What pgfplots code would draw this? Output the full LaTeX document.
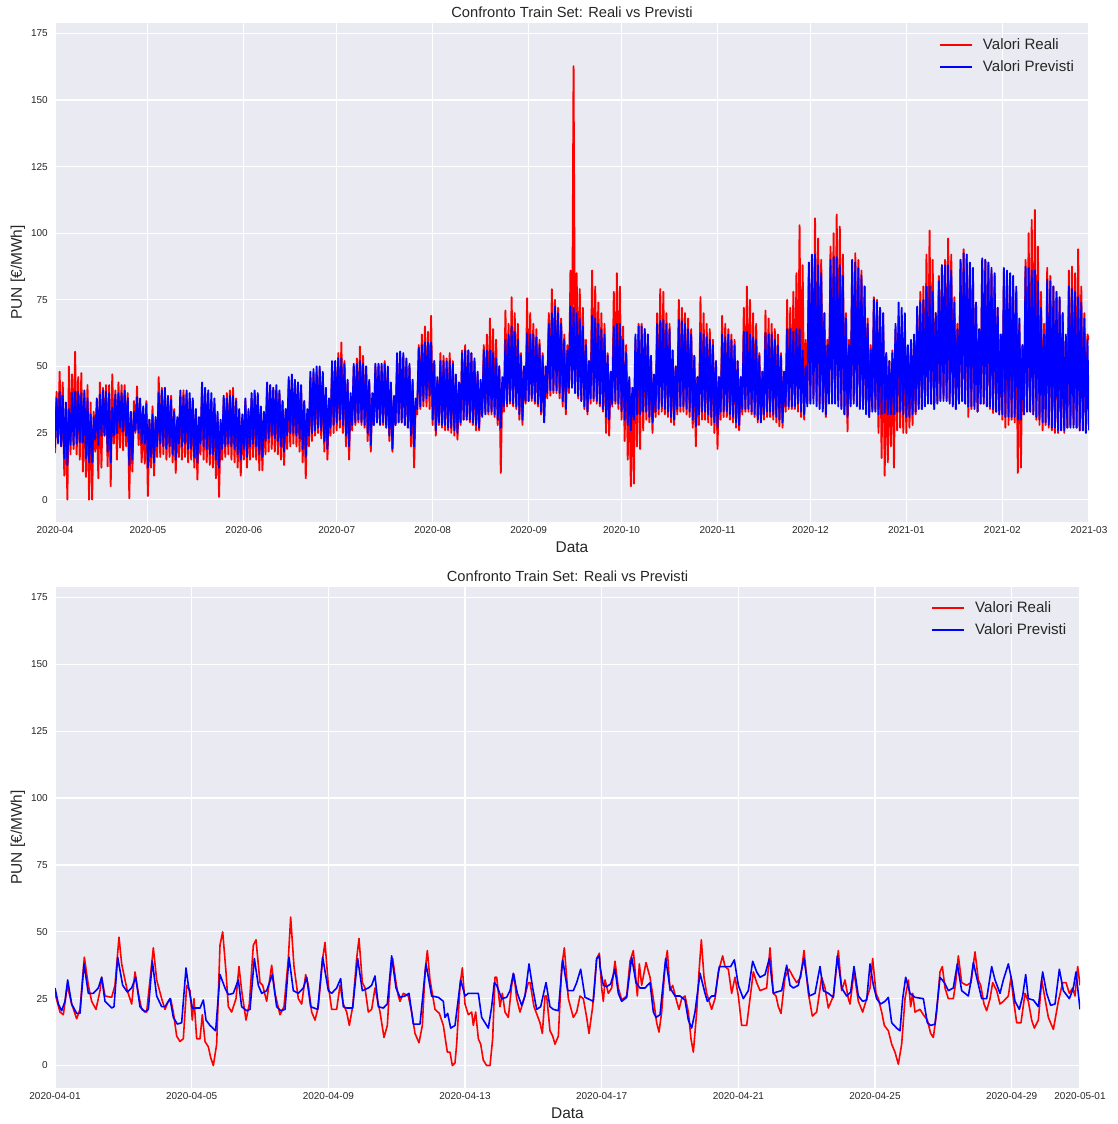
\documentclass[border=0pt]{standalone}
\usepackage{fontspec}
\setmainfont{Liberation Sans}
\usepackage{pgfplots}
\pgfplotsset{compat=1.18}
\definecolor{bgGray}{HTML}{EAEAF2}
\definecolor{txt}{HTML}{262626}

% 1 px of the reference = 0.75pt
\pgfplotsset{
  punstyle/.style={
    scale only axis,
    axis background/.style={fill=bgGray},
    axis line style={draw=none},
    major tick length=0pt,
    grid=major,
    major grid style={white, line width=0.9pt},
    ymin=-8.4, ymax=178.9,
    ytick={0,25,...,175},
    /pgf/number format/assume math mode=true,
    tick label style={font=\fontsize{7.5}{9}\selectfont, text=txt},
    yticklabel style={inner sep=0pt, anchor=east, xshift=-5.25pt},
    xticklabel style={inner sep=0pt, anchor=north, yshift=-3pt},
    title style={font=\fontsize{11}{13}\selectfont, text=txt,
      at={(axis description cs:0.5,1)}, anchor=base, inner sep=0pt, yshift=-1.5pt},
    xlabel style={font=\fontsize{11.6}{14}\selectfont, text=txt,
      at={(axis description cs:0.5,0)}, anchor=base, inner sep=0pt, yshift=-22.5pt},
    ylabel style={font=\fontsize{11.6}{14}\selectfont, text=txt, anchor=center, inner sep=0pt},
    legend style={draw=none, fill=none, font=\fontsize{11.3}{13}\selectfont, text=txt,
      anchor=north west, inner sep=0pt, row sep=6.6pt,
      nodes={inner sep=0pt},
      /tikz/every odd column/.append style={column sep=7.5pt}},
    legend image code/.code={\draw[#1, line width=1.2pt] (0pt,0pt) -- (24pt,0pt);},
    legend cell align=left,
    title={Confronto Train Set: Reali vs Previsti},
    xlabel={Data},
    ylabel={PUN [€/MWh]},
  },
  reali/.style={red, line width=1.2pt, line join=round, no marks},
  previsti/.style={blue, line width=1.2pt, line join=round, no marks},
}

\begin{document}
\begin{tikzpicture}
\path[use as bounding box] (0,0) rectangle (837.75pt,-843pt);

% ---------- top: whole train set, x = days from 2020-04-01 ----------
\begin{axis}[punstyle,
  at={(41.25pt,-391.5pt)}, anchor=south west,
  width=775.5pt, height=374.25pt,
  xmin=0, xmax=334,
  xtick={0,30,61,91,122,153,183,214,244,275,306,334},
  xticklabels={2020-04,2020-05,2020-06,2020-07,2020-08,2020-09,2020-10,2020-11,2020-12,2021-01,2021-02,2021-03},
  ylabel style={at={(axis description cs:-0.0358,0.5)}},
  legend style={at={(axis description cs:0.855,0.969)}},
  reali/.append style={line width=1.4pt},
  previsti/.append style={line width=1.4pt},
]
\addplot[reali] coordinates {
(0,17.5)(0.5,40.5)(1,21)(1.5,48)(2,20)(2.5,44)(3,9)(3.5,32)(4,0)(4.5,50)(5,17)(5.5,47)(6,19)(6.5,55.5)
(7,17)(7.5,46)(8,15)(8.5,47.5)(9,10.5)(9.5,40)(10,8.5)(10.5,43)(11,0)(11.5,36.5)(12,0)(12.5,33)(13,18)(13.5,34)
(14,8)(14.5,44)(15,12)(15.5,42)(16,24)(16.5,43)(17,12.5)(17.5,43)(18,5)(18.5,47)(19,21)(19.5,41)(20,15)(20.5,44)
(21,19.5)(21.5,43)(22,18.5)(22.5,43)(23,20)(23.5,40)(24,0.5)(24.5,32)(25,10.5)(25.5,37)(26,25)(26.5,42.5)(27,20.5)(27.5,33)
(28,14)(28.5,32)(29,13.5)(29.5,37)(30,1.3)(30.5,30)(31,12)(31.5,35)(32,9)(32.5,30)(33,16)(33.5,46)(34,16)(34.5,42)
(35,17)(35.5,40)(36,15)(36.5,38)(37,16)(37.5,39)(38,14)(38.5,34)(39,10)(39.5,30)(40,16)(40.5,39)(41,15)(41.5,41)
(42,16)(42.5,40)(43,14)(43.5,38)(44,15)(44.5,37)(45,12)(45.5,33)(46,7.5)(46.5,30)(47,17)(47.5,42)(48,15)(48.5,40)
(49,14)(49.5,38)(50,13)(50.5,37)(51,12)(51.5,36)(52,8)(52.5,31)(53,1)(53.5,29)(54,15)(54.5,38)(55,16)(55.5,40)
(56,17)(56.5,41)(57,15)(57.5,42)(58,14)(58.5,38)(59,12)(59.5,33)(60,9)(60.5,30)(61,15)(61.5,37)(62,12)(62.5,33)
(63,15)(63.5,38)(64,16)(64.5,40)(65,15)(65.5,39)(66,11)(66.5,34)(67,11)(67.5,31)(68,17)(68.5,42)(69,18)(69.5,43)
(70,19)(70.5,42)(71,18)(71.5,41)(72,17)(72.5,40)(73,15)(73.5,37)(74,13)(74.5,33)(75,19)(75.5,44)(76,20)(76.5,45)
(77,21)(77.5,44)(78,20)(78.5,43)(79,18)(79.5,41)(80,14)(80.5,37)(81,8)(81.5,32)(82,20)(82.5,46)(83,22)(83.5,47)
(84,24)(84.5,48)(85,25)(85.5,49)(86,23)(86.5,46)(87,18)(87.5,40)(88,15)(88.5,36)(89,24)(89.5,50)(90,25)(90.5,52)
(91,26)(91.5,55)(92,27)(92.5,59)(93,25)(93.5,52)(94,20)(94.5,44)(95,15)(95.5,38)(96,26)(96.5,50)(97,28)(97.5,53)
(98,29)(98.5,57.5)(99,28)(99.5,54)(100,27)(100.5,50)(101,22)(101.5,44)(102,18)(102.5,38)(103,28)(103.5,50)(104,29)(104.5,51)
(105,29)(105.5,50)(106,28)(106.5,52)(107,27)(107.5,49)(108,22)(108.5,43)(109,18)(109.5,37)(110,28)(110.5,53)(111,29)(111.5,55)
(112,29)(112.5,54)(113,28)(113.5,52)(114,27)(114.5,50)(115,20)(115.5,44)(116,12)(116.5,36)(117,32)(117.5,58)(118,34)(118.5,62)
(119,35)(119.5,65)(120,35)(120.5,63)(121,34)(121.5,69)(122,28)(122.5,52)(123,24)(123.5,45)(124,28)(124.5,55)(125,27)(125.5,54)
(126,26)(126.5,53)(127,26)(127.5,55)(128,25)(128.5,52)(129,24)(129.5,46)(130,22.5)(130.5,42)(131,28)(131.5,56)(132,30)(132.5,58)
(133,30)(133.5,56)(134,29)(134.5,55)(135,28)(135.5,52)(136,26)(136.5,47)(137,26)(137.5,44)(138,32)(138.5,58)(139,33)(139.5,62)
(140,32)(140.5,68)(141,32)(141.5,64)(142,31)(142.5,60)(143,28)(143.5,50)(144,10)(144.5,44)(145,33)(145.5,71)(146,35)(146.5,66)
(147,36)(147.5,76)(148,35)(148.5,70)(149,34)(149.5,66)(150,30)(150.5,55)(151,28)(151.5,50)(152,36)(152.5,75.6)(153,37)(153.5,70)
(154,37)(154.5,66)(155,36)(155.5,64)(156,35)(156.5,60)(157,32)(157.5,55)(158,29)(158.5,50)(159,38)(159.5,70)(160,39)(160.5,79)
(161,40)(161.5,75)(162,40)(162.5,72)(163,38)(163.5,68)(164,35)(164.5,62)(165,32)(165.5,58)(166,40)(166.5,86)(167,42)(167.5,162.7)
(168,40)(168.5,85)(169,38)(169.5,79)(170,37)(170.5,72)(171,34)(171.5,60)(172,32)(172.5,52)(173,36)(173.5,86)(174,37)(174.5,80)
(175,36)(175.5,74)(176,35)(176.5,70)(177,33)(177.5,66)(178,25)(178.5,55)(179,24)(179.5,48)(180,35)(180.5,78)(181,36)(181.5,85)
(182,34)(182.5,80)(183,30)(183.5,65)(184,22)(184.5,58)(185,15)(185.5,45)(186,5)(186.5,40)(187,6)(187.5,60)(188,20)(188.5,66)
(189,19)(189.5,66)(190,26)(190.5,64)(191,30)(191.5,62)(192,29)(192.5,54)(193,25)(193.5,46)(194,31)(194.5,70)(195,32)(195.5,79)
(196,33)(196.5,78)(197,32)(197.5,70)(198,31)(198.5,66)(199,29)(199.5,56)(200,28)(200.5,50)(201,32)(201.5,75)(202,33)(202.5,72)
(203,33)(203.5,70)(204,32)(204.5,68)(205,31)(205.5,64)(206,27)(206.5,54)(207,20)(207.5,46)(208,28)(208.5,76)(209,30)(209.5,70)
(210,30)(210.5,66)(211,29)(211.5,64)(212,28)(212.5,60)(213,25)(213.5,52)(214,19)(214.5,46)(215,30)(215.5,69)(216,31)(216.5,66)
(217,31)(217.5,64)(218,30)(218.5,62)(219,29)(219.5,60)(220,27)(220.5,52)(221,26)(221.5,46)(222,32)(222.5,72)(223,33)(223.5,80)
(224,33)(224.5,75)(225,32)(225.5,70)(226,31)(226.5,66)(227,29)(227.5,55)(228,29)(228.5,48)(229,30)(229.5,71)(230,31)(230.5,68)
(231,31)(231.5,66)(232,30)(232.5,64)(233,29)(233.5,62)(234,27.5)(234.5,55)(235,27)(235.5,48)(236,33)(236.5,75)(237,34)(237.5,72)
(238,34)(238.5,78)(239,34)(239.5,85)(240,33)(240.5,103)(241,31)(241.5,88)(242,30)(242.5,60)(243,36)(243.5,85)(244,37)(244.5,90)
(245,38)(245.5,105.6)(246,37)(246.5,98)(247,36)(247.5,90)(248,34)(248.5,70)(249,31)(249.5,60)(250,38)(250.5,95)(251,38)(251.5,100)
(252,38)(252.5,107)(253,37)(253.5,102.5)(254,35)(254.5,92)(255,32)(255.5,70)(256,25.6)(256.5,60)(257,36)(257.5,88)(258,37)(258.5,92.5)
(259,36)(259.5,90)(260,35)(260.5,86)(261,34)(261.5,80)(262,33)(262.5,68)(263,31)(263.5,58)(264,34)(264.5,76)(265,34)(265.5,75)
(266,25)(266.5,72)(267,15.6)(267.5,70)(268,9)(268.5,55)(269,14)(269.5,52)(270,20)(270.5,56)(271,12)(271.5,64)(272,26)(272.5,66)
(273,27)(273.5,65)(274,25)(274.5,62)(275,25)(275.5,55)(276,27)(276.5,58)(277,28)(277.5,60)(278,32)(278.5,72)(279,34)(279.5,78)
(280,34)(280.5,80)(281,36)(281.5,92)(282,37)(282.5,101)(283,36)(283.5,90)(284,34)(284.5,70)(285,37)(285.5,84)(286,38)(286.5,88)
(287,38)(287.5,90)(288,38)(288.5,98)(289,37)(289.5,92)(290,36)(290.5,76)(291,34)(291.5,66)(292,37)(292.5,90)(293,37)(293.5,94)
(294,36)(294.5,92)(295,31)(295.5,88)(296,34)(296.5,86)(297,35)(297.5,74)(298,33)(298.5,64)(299,36)(299.5,90)(300,36)(300.5,90)
(301,35)(301.5,88)(302,34)(302.5,86)(303,32.5)(303.5,84)(304,33)(304.5,72)(305,32)(305.5,62)(306,30)(306.5,85.6)(307,27)(307.5,84)
(308,28)(308.5,82)(309,30)(309.5,80)(310,29)(310.5,78)(311,10)(311.5,66)(312,12)(312.5,58)(313,32)(313.5,90)(314,33)(314.5,100)
(315,33)(315.5,105)(316,32)(316.5,108.75)(317,30)(317.5,95)(318,28)(318.5,78)(319,26)(319.5,66)(320,28)(320.5,87)(321,27)(321.5,84)
(322,26)(322.5,80)(323,25)(323.5,78)(324,25)(324.5,75)(325,26)(325.5,70)(326,25)(326.5,60)(327,27)(327.5,86)(328,28)(328.5,87.5)
(329,28)(329.5,85)(330,27)(330.5,94)(331,26)(331.5,80)(332,26)(332.5,70)(333,26)(333.5,62)(334,60)
};
\addlegendentry{Valori Reali}
\addplot[previsti] coordinates {
(0,19.5)(0.5,38)(1,21.5)(1.5,40.5)(2,20)(2.5,39)(3,15.5)(3.5,36.5)(4,13)(4.5,34)(5,20.5)(5.5,40)(6,20.5)(6.5,40.5)
(7,21)(7.5,40.5)(8,21.5)(8.5,40)(9,21.5)(9.5,41)(10,15.5)(10.5,38)(11,14)(11.5,32)(12,14)(12.5,31)(13,22.5)(13.5,38)
(14,20.5)(14.5,39.5)(15,24)(15.5,41)(16,24)(16.5,40.5)(17,18)(17.5,40)(18,14)(18.5,34.5)(19,24)(19.5,39.5)(20,25)(20.5,40)
(21,27)(21.5,40)(22,25.5)(22.5,41)(23,24)(23.5,38)(24,13)(24.5,33)(25,15)(25.5,33)(26,26)(26.5,38.5)(27,25)(27.5,38)
(28,21)(28.5,35)(29,21)(29.5,36)(30,12)(30.5,30)(31,16)(31.5,32)(32,14)(32.5,31)(33,20)(33.5,40)(34,21)(34.5,41)
(35,20)(35.5,42)(36,19)(36.5,39)(37,20)(37.5,37.5)(38,17)(38.5,33)(39,15)(39.5,31)(40,21)(40.5,41)(41,20)(41.5,39)
(42,21)(42.5,41)(43,19)(43.5,40)(44,19)(44.5,38)(45,16)(45.5,34)(46,14)(46.5,31)(47,21)(47.5,44)(48,20)(48.5,42)
(49,19)(49.5,41)(50,17)(50.5,40)(51,17)(51.5,38)(52,15)(52.5,33)(53,12)(53.5,30)(54,19)(54.5,39)(55,20)(55.5,38)
(56,21)(56.5,39)(57,20)(57.5,39)(58,19)(58.5,37)(59,17)(59.5,34)(60,15)(60.5,32)(61,19)(61.5,38)(62,16)(62.5,34)
(63,20)(63.5,40)(64,21)(64.5,41)(65,20)(65.5,40)(66,17)(66.5,35)(67,16)(67.5,33)(68,22)(68.5,44)(69,23)(69.5,43)
(70,24)(70.5,42)(71,23)(71.5,43)(72,22)(72.5,41)(73,20)(73.5,37)(74,18)(74.5,34)(75,24)(75.5,46)(76,25)(76.5,47)
(77,25)(77.5,45)(78,24)(78.5,44)(79,23)(79.5,43)(80,19)(80.5,37)(81,16)(81.5,34)(82,24)(82.5,48)(83,25)(83.5,49)
(84,26)(84.5,50)(85,27)(85.5,50)(86,26)(86.5,48)(87,22)(87.5,42)(88,19)(88.5,38)(89,27)(89.5,52)(90,28)(90.5,52)
(91,29)(91.5,53)(92,30)(92.5,53)(93,28)(93.5,51)(94,24)(94.5,45)(95,20)(95.5,40)(96,28)(96.5,51)(97,29)(97.5,51)
(98,30)(98.5,52)(99,29)(99.5,51)(100,28)(100.5,50)(101,25)(101.5,45)(102,20.5)(102.5,40)(103,28)(103.5,51)(104,29)(104.5,51)
(105,28)(105.5,51)(106,29)(106.5,51)(107,27)(107.5,50)(108,24)(108.5,44)(109,19)(109.5,39)(110,28)(110.5,55)(111,29)(111.5,55.6)
(112,29)(112.5,55)(113,28)(113.5,53)(114,27)(114.5,51)(115,24)(115.5,45)(116,20)(116.5,38)(117,34)(117.5,57)(118,35)(118.5,58)
(119,37)(119.5,59)(120,38)(120.5,59)(121,39)(121.5,59)(122,30)(122.5,52)(123,26)(123.5,46)(124,29)(124.5,52)(125,28)(125.5,52)
(126,28)(126.5,52)(127,27)(127.5,52)(128,27)(128.5,51)(129,26)(129.5,47)(130,25)(130.5,44)(131,29)(131.5,55)(132,30)(132.5,56)
(133,30)(133.5,56)(134,30)(134.5,55)(135,29)(135.5,53)(136,28)(136.5,48)(137,27)(137.5,45)(138,31)(138.5,56)(139,32)(139.5,56)
(140,33)(140.5,56)(141,33)(141.5,55)(142,32)(142.5,53)(143,30)(143.5,50)(144,27)(144.5,46)(145,35)(145.5,60)(146,36)(146.5,62)
(147,37)(147.5,65)(148,36)(148.5,63)(149,35)(149.5,60)(150,32)(150.5,54)(151,30)(151.5,50)(152,37)(152.5,62.5)(153,37)(153.5,62)
(154,38)(154.5,62)(155,37)(155.5,61)(156,36)(156.5,58)(157,33)(157.5,54)(158,29)(158.5,50)(159,40)(159.5,66)(160,41)(160.5,70)
(161,41)(161.5,72.5)(162,41)(162.5,70)(163,40)(163.5,66)(164,37)(164.5,60)(165,34)(165.5,56)(166,42)(166.5,72.5)(167,42)(167.5,72)
(168,40)(168.5,70)(169,39)(169.5,68)(170,37)(170.5,65)(171,35)(171.5,58)(172,33)(172.5,52)(173,38)(173.5,69)(174,38)(174.5,68)
(175,37)(175.5,66)(176,36)(176.5,64)(177,34)(177.5,62)(178,31)(178.5,54)(179,30)(179.5,48)(180,36)(180.5,65)(181,37)(181.5,66)
(182,36)(182.5,66)(183,33)(183.5,60)(184,30)(184.5,55)(185,28)(185.5,46)(186,26)(186.5,42)(187,30)(187.5,62)(188,32)(188.5,65)
(189,32)(189.5,65)(190,33)(190.5,64)(191,33)(191.5,62)(192,31)(192.5,54)(193,29)(193.5,47)(194,33)(194.5,66)(195,34)(195.5,67)
(196,35)(196.5,67.5)(197,34)(197.5,66)(198,33)(198.5,64)(199,31)(199.5,56)(200,30)(200.5,50)(201,34)(201.5,67.5)(202,35)(202.5,67)
(203,35)(203.5,66)(204,34)(204.5,64)(205,33)(205.5,62)(206,30)(206.5,54)(207,27.5)(207.5,46)(208,32)(208.5,62.5)(209,33)(209.5,62)
(210,33)(210.5,61)(211,32)(211.5,60)(212,31)(212.5,58)(213,29)(213.5,52)(214,27)(214.5,46)(215,33)(215.5,62)(216,33)(216.5,61)
(217,33)(217.5,62)(218,32)(218.5,60)(219,31)(219.5,58)(220,29)(220.5,52)(221,28)(221.5,46)(222,34)(222.5,63)(223,34)(223.5,63)
(224,34)(224.5,62)(225,33)(225.5,61)(226,32)(226.5,60)(227,30)(227.5,54)(228,29)(228.5,48)(229,32)(229.5,62.5)(230,33)(230.5,62)
(231,33)(231.5,62)(232,32)(232.5,60)(233,31)(233.5,58)(234,30)(234.5,54)(235,29)(235.5,48)(236,35)(236.5,64)(237,35)(237.5,64)
(238,35)(238.5,63)(239,35)(239.5,64)(240,36)(240.5,64)(241,33)(241.5,56)(242,32)(242.5,50)(243,35)(243.5,89)(244,36)(244.5,92)
(245,36)(245.5,92)(246,35)(246.5,88)(247,34)(247.5,85)(248,33)(248.5,70)(249,32)(249.5,58)(250,36)(250.5,90)(251,36)(251.5,91)
(252,36)(252.5,91)(253,35)(253.5,88)(254,34)(254.5,84)(255,32)(255.5,68)(256,31)(256.5,58)(257,35)(257.5,90)(258,36)(258.5,89)
(259,35)(259.5,87)(260,34)(260.5,84)(261,34)(261.5,80)(262,32)(262.5,66)(263,31)(263.5,56)(264,33)(264.5,75)(265,33)(265.5,74)
(266,32)(266.5,72)(267,32)(267.5,70)(268,32.5)(268.5,55)(269,32)(269.5,52)(270,32)(270.5,55)(271,32)(271.5,66)(272,33)(272.5,74)
(273,33)(273.5,72)(274,32)(274.5,70)(275,31)(275.5,58)(276,31)(276.5,60)(277,32)(277.5,62)(278,33)(278.5,72.5)(279,34)(279.5,74)
(280,34)(280.5,75)(281,35)(281.5,80)(282,36)(282.5,80)(283,36)(283.5,78)(284,34)(284.5,70)(285,36)(285.5,82)(286,37)(286.5,88)
(287,37)(287.5,88)(288,37)(288.5,88)(289,36)(289.5,86)(290,35)(290.5,74)(291,34)(291.5,64)(292,36)(292.5,90)(293,37)(293.5,92.5)
(294,36)(294.5,92)(295,35)(295.5,89)(296,35)(296.5,87)(297,34)(297.5,74)(298,33)(298.5,64)(299,36)(299.5,90.6)(300,36)(300.5,90)
(301,35)(301.5,89)(302,35)(302.5,87)(303,34)(303.5,85)(304,33)(304.5,72)(305,32)(305.5,62)(306,32)(306.5,87)(307,31)(307.5,86)
(308,31)(308.5,85)(309,31)(309.5,84)(310,31)(310.5,80)(311,30)(311.5,68)(312,30)(312.5,58)(313,32)(313.5,87.5)(314,33)(314.5,87)
(315,33)(315.5,86)(316,32)(316.5,86)(317,31)(317.5,82)(318,30)(318.5,72)(319,29)(319.5,62)(320,29)(320.5,82.5)(321,28)(321.5,82)
(322,27)(322.5,80)(323,27)(323.5,78)(324,26)(324.5,76)(325,26)(325.5,70)(326,26)(326.5,62)(327,27)(327.5,80)(328,27)(328.5,79)
(329,27)(329.5,78)(330,27)(330.5,76)(331,26)(331.5,74)(332,26)(332.5,68)(333,25)(333.5,60)(334,26)
};
\addlegendentry{Valori Previsti}
\end{axis}

% ---------- bottom: April 2020, x = time index (102.5 units per day, 45 = 2020-04-01) ----------
\begin{axis}[punstyle,
  at={(41.25pt,-816pt)}, anchor=south west,
  width=768.75pt, height=375.75pt,
  xmin=45, xmax=3120,
  xtick={45,455,865,1275,1685,2095,2505,2915,3120},
  xticklabels={2020-04-01,2020-04-05,2020-04-09,2020-04-13,2020-04-17,2020-04-21,2020-04-25,2020-04-29,2020-05-01},
  ylabel style={at={(axis description cs:-0.0361,0.5)}},
  legend style={at={(axis description cs:0.855,0.971)}},
]
\addplot[reali] coordinates {
(45,27)(60,20)(70,19)(82,30)(95,23)(110,17.5)(120,21)(133,40.5)(145,30)(155,24)(168,21)(180,28)(185,33)(195,26)
(215,25.5)(225,30)(237,48)(245,38)(255,32)(262,28)(275,23)(285,35)(295,27)(305,21)(320,20)(340,44)(350,32)(365,25)
(375,21)(385,24)(392,25)(400,20)(410,11)(420,9)(430,10)(440,30)(450,28)(457,17)(462,25)(470,10)(480,10)(487,19)
(495,9)(505,7)(512,3)(520,0)(530,8)(540,45)(548,50)(558,35)(565,22)(575,20)(588,25)(597,37)(605,28)(618,17)
(628,23)(640,45)(648,47)(660,31)(668,30)(680,24)(695,37.5)(705,27)(720,19)(732,22)(745,40)(752,55.5)(762,37)(775,25)
(785,23)(797,34)(805,30)(815,20)(825,17)(835,22)(848,40)(855,46)(865,30)(875,21)(890,21)(900,30)(910,23)(920,20)
(928,15)(938,22)(950,40)(957,47.5)(967,31)(975,29)(985,20)(995,21)(1005,29)(1020,20)(1032,10.5)(1042,15)(1050,32)(1058,40)
(1068,31)(1075,26)(1080,24)(1090,27)(1105,26)(1115,20)(1125,12)(1137,8.5)(1147,15)(1155,35)(1162,43)(1170,32)(1185,21)(1198,19.5)
(1210,15)(1222,5)(1230,5)(1237,0)(1245,1)(1250,8)(1260,30)(1267,36.5)(1275,23)(1285,19)(1295,20)(1300,15)(1307,20)(1315,10)
(1322,8)(1330,2)(1340,0)(1350,0)(1358,10)(1365,33)(1370,33)(1380,22)(1387,27)(1395,20)(1405,18)(1415,30)(1422,34)(1430,25)
(1440,20)(1450,24)(1465,31)(1470,31)(1482,22)(1500,16)(1507,12)(1515,26)(1520,26)(1530,13)(1538,11)(1545,8)(1555,11)(1565,37)
(1573,44)(1585,25)(1600,18)(1610,20)(1620,26)(1630,25)(1640,18)(1647,12)(1658,22)(1670,40)(1678,42)(1685,29)(1690,24)(1695,32)
(1705,27)(1715,29)(1725,39)(1735,29)(1745,24.5)(1760,26)(1770,39)(1780,43)(1792,26)(1798,38)(1805,30)(1818,38.5)(1830,33)(1840,25)
(1850,16)(1857,12.5)(1865,20)(1875,37)(1882,43)(1890,28)(1898,30)(1910,24)(1917,21)(1925,25)(1935,26)(1945,20)(1953,10)(1960,5)
(1970,20)(1977,35)(1984,47)(1992,33)(2000,27)(2015,21)(2025,25)(2035,35)(2048,41)(2055,37)(2065,36)(2075,27)(2085,33)(2095,26)
(2105,15)(2120,15)(2130,25)(2140,35)(2150,31)(2160,28)(2180,29)(2190,44)(2200,27)(2208,26)(2215,22)(2223,19.5)(2235,33)(2247,36)
(2260,33)(2270,31)(2282,33)(2292,43)(2305,27)(2317,18.5)(2330,20)(2345,33)(2355,29)(2365,21.5)(2380,26)(2395,43)(2405,28)(2415,32)
(2425,25)(2430,23)(2442,35)(2455,24)(2468,20)(2480,25)(2490,29)(2498,40)(2508,27)(2515,25)(2525,20)(2533,15)(2545,13)(2555,8)
(2565,5)(2575,0.5)(2585,8)(2595,25)(2605,32)(2612,22)(2618,27)(2625,20)(2640,21)(2650,19)(2662,17)(2672,12)(2680,10.5)(2690,20)
(2700,35)(2707,37)(2715,29)(2725,25)(2740,25)(2747,31)(2755,41)(2765,31)(2780,30)(2793,31)(2805,42.5)(2815,32)(2822,30)(2832,23)
(2840,20.5)(2850,25)(2858,31)(2870,28)(2880,23)(2890,24)(2905,26)(2913,33)(2920,25)(2930,16)(2943,16)(2955,27)(2965,24)(2975,17)
(2983,14)(2995,17)(3005,32)(3015,25)(3025,18)(3040,13.5)(3055,24)(3068,31)(3078,31)(3088,27)(3098,29)(3105,26)(3113,37)(3120,30)
};
\addlegendentry{Valori Reali}
\addplot[previsti] coordinates {
(45,29)(55,23)(65,20.5)(75,24)(83,32)(95,23)(110,19.5)(120,19.5)(132,38)(145,27)(160,27)(175,29)(185,33)(195,24)
(215,21.5)(222,22)(233,40.5)(248,30)(262,27.5)(275,29)(287,33)(300,22)(315,20)(325,21)(337,39)(350,26)(365,22)(375,22)
(390,25)(400,18)(412,15.5)(425,16)(438,36.5)(445,30)(457,21.5)(480,21.5)(490,24.5)(498,17)(510,15)(527,13)(540,34)(555,29)
(565,26.5)(580,27)(595,32)(605,22)(620,20.5)(630,21)(643,40)(655,30)(665,27)(680,28)(697,34)(710,22)(722,20.5)(735,21)
(747,40.5)(760,28)(775,27)(790,29)(800,33)(812,22)(833,21)(848,40.5)(865,28)(875,27)(890,29)(902,32.5)(910,22)(920,21.5)
(938,21.5)(953,40)(967,28)(985,29)(995,30)(1005,33.5)(1015,22)(1030,21.5)(1042,23)(1055,41)(1068,29)(1080,25.5)(1095,26)(1107,27)
(1120,15.5)(1140,15.5)(1158,38)(1175,26)(1195,25.5)(1210,24)(1215,18)(1223,19.5)(1232,14)(1245,15)(1262,32)(1275,26)(1285,27)(1300,27)
(1315,27)(1325,18)(1345,14)(1355,22)(1363,31)(1370,30)(1385,25)(1400,25.5)(1410,28)(1420,34.5)(1432,27)(1445,22.5)(1455,26)(1467,38)
(1478,29)(1490,21)(1502,22)(1518,31)(1530,22)(1540,21)(1555,20.5)(1568,39.5)(1583,28)(1600,28)(1610,31)(1622,36)(1635,25.5)(1652,24.5)
(1660,24)(1670,40)(1678,41)(1680,37)(1690,30)(1700,29.5)(1712,30.5)(1725,36)(1735,27)(1745,24)(1760,25.5)(1775,40.5)(1788,31)(1800,29)
(1815,29)(1830,31)(1840,20)(1848,18)(1860,19)(1877,40)(1890,29)(1905,26)(1920,26)(1935,24.5)(1945,17)(1955,14)(1965,20)(1980,34.5)
(1995,27)(2002,24)(2015,26)(2025,26)(2038,37)(2055,37)(2072,37)(2083,39.5)(2095,30)(2110,25)(2125,28)(2138,39)(2150,35)(2160,33)
(2175,34)(2188,40)(2200,27)(2210,27.5)(2225,28)(2240,37.5)(2250,30)(2260,29)(2275,30)(2292,40)(2308,26)(2325,27)(2340,37)(2350,28)
(2365,27)(2380,25.5)(2392,41)(2405,29)(2420,26)(2432,27.5)(2442,37)(2455,26)(2468,24)(2480,24.5)(2490,38)(2500,30)(2510,25)(2522,23)
(2535,24)(2545,25.5)(2555,16)(2570,14)(2580,13)(2588,25)(2597,33)(2610,27)(2625,25.5)(2650,25)(2662,16)(2672,15)(2685,15.5)(2695,27)
(2700,33)(2713,31)(2725,28)(2740,29)(2752,38)(2765,28)(2785,26)(2792,31)(2800,38.5)(2810,33)(2825,25)(2840,25)(2855,37)(2865,32)
(2880,27)(2890,32)(2905,38)(2915,32)(2925,24)(2938,21)(2948,26)(2957,34)(2965,25)(2980,24.5)(2995,22)(3008,35)(3020,27)(3032,22.5)
(3045,23)(3058,36)(3070,28)(3088,25)(3100,29)(3108,35)(3120,21)
};
\addlegendentry{Valori Previsti}
\end{axis}
\end{tikzpicture}
\end{document}
